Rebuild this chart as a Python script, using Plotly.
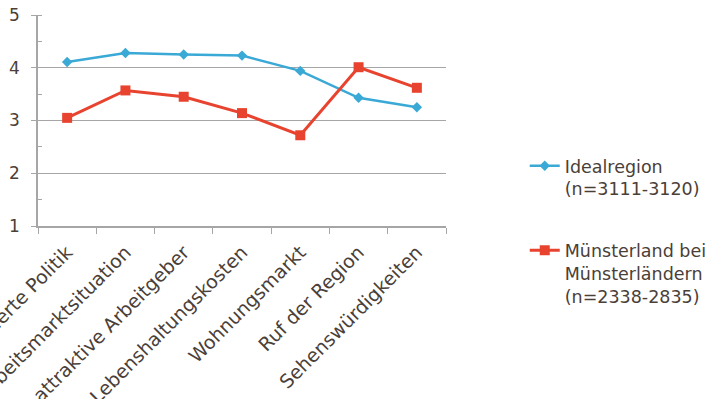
import plotly.graph_objects as go

categories = ["Familienorientierte Politik", "Arbeitsmarktsituation", "Viele attraktive Arbeitgeber",
              "Lebenshaltungskosten", "Wohnungsmarkt", "Ruf der Region", "Sehenswürdigkeiten"]
ideal = [4.11, 4.28, 4.25, 4.23, 3.94, 3.43, 3.25]
muenster = [3.05, 3.57, 3.45, 3.14, 2.72, 4.01, 3.62]
y_ticks = [1, 2, 3, 4, 5]

text_color = "#4a4038"
grid_color = "#a6a6a6"
font_family = "DejaVu Sans, Verdana, sans-serif"

fig = go.Figure()
fig.add_trace(go.Scatter(
    x=categories, y=ideal, mode="lines+markers",
    name="Idealregion<br>(n=3111-3120)",
    line=dict(color="#3aa9d6", width=2.5),
    marker=dict(symbol="diamond", size=8, color="#3aa9d6"),
    legendgroup="a",
))
fig.add_trace(go.Scatter(
    x=categories, y=muenster, mode="lines+markers",
    name="Münsterland bei<br>Münsterländern<br>(n=2338-2835)",
    line=dict(color="#e8432f", width=3),
    marker=dict(symbol="square", size=10, color="#e8432f"),
    legendgroup="b",
))

fig.update_layout(
    width=709, height=399,
    margin=dict(l=38, r=263, t=15, b=173, autoexpand=False),
    paper_bgcolor="white", plot_bgcolor="white",
    font=dict(family=font_family, color=text_color, size=17),
    legend=dict(
        x=1.193, xanchor="left", y=0.37, yanchor="top",
        font=dict(size=17.5, color=text_color, family=font_family),
        tracegroupgap=36,
        itemwidth=30,
        valign="top",
        bgcolor="rgba(0,0,0,0)",
    ),
    xaxis=dict(
        type="category", range=[-0.5, 6.5], automargin=False,
        tickangle=-45, tickson="boundaries",
        ticks="outside", ticklen=6, tickcolor=grid_color,
        showline=True, linecolor=grid_color, linewidth=1.5,
        showgrid=False,
        ticklabelstandoff=6,
        tickfont=dict(size=19, color=text_color, family=font_family),
    ),
    yaxis=dict(
        range=[1, 5], tickvals=y_ticks, automargin=False,
        ticks="outside", ticklen=5, tickcolor=grid_color,
        showline=True, linecolor=grid_color, linewidth=1.5,
        showgrid=True, gridcolor=grid_color, gridwidth=1.2,
        zeroline=False,
        tickfont=dict(size=17, color=text_color, family=font_family),
        ticklabelstandoff=8,
        minor=dict(dtick=0.5, tick0=0.5, ticks="inside", ticklen=4, tickcolor=grid_color, showgrid=False),
    ),
)

fig.write_html("out.html")
